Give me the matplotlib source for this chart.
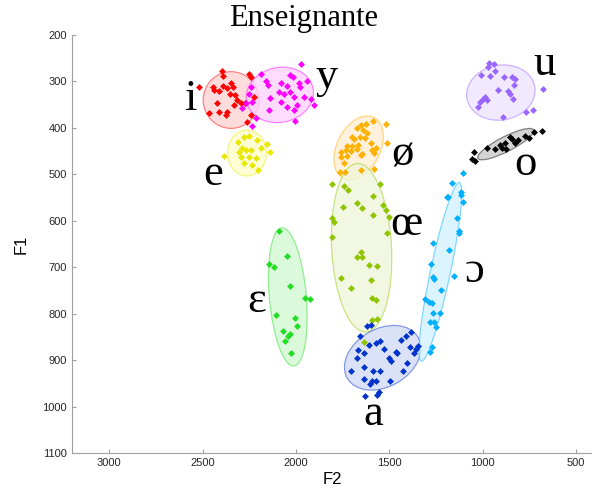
import matplotlib.pyplot as plt
from matplotlib.patches import Ellipse
from matplotlib.transforms import Affine2D
from matplotlib.colors import to_rgba

# F2 / F1 values (Hz), one pair of lists per vowel
i_f2 = [2399, 2389, 2252, 2243, 2519, 2447, 2439, 2412, 2389, 2368, 2346, 2336, 2354,
        2329, 2314, 2297, 2275, 2421, 2412, 2368, 2466, 2377, 2261, 2240, 2333, 2226]
i_f1 = [277, 288, 284, 290, 313, 313, 318, 320, 310, 315, 304, 311, 327,
        329, 340, 346, 347, 347, 366, 365, 369, 373, 387, 372, 351, 333]

y_f2 = [1973, 2190, 2030, 2016, 2163, 2151, 2083, 2051, 1986, 1977, 1941, 2092, 2066, 2030,
        2012, 1959, 1919, 2137, 2243, 2252, 2234, 2270, 2288, 2083, 2048, 2012, 1995, 2146,
        2216, 2003, 1906, 2234]
y_f1 = [262, 284, 286, 291, 300, 308, 304, 310, 303, 311, 300, 322, 326, 322,
        333, 333, 338, 336, 311, 326, 344, 347, 358, 344, 354, 361, 351, 361,
        379, 385, 351, 396]

e_f2 = [2252, 2279, 2208, 2311, 2154, 2288, 2306, 2270, 2240, 2190, 2140, 2385, 2296,
        2252, 2216, 2279, 2234, 2205]
e_f1 = [417, 420, 426, 430, 435, 444, 451, 448, 448, 444, 451, 461, 462,
        462, 465, 476, 480, 491]

oe_f2 = [1586, 1520, 1650, 1627, 1672, 1640, 1618, 1698, 1658, 1690, 1632, 1600, 1511,
         1725, 1698, 1668, 1761, 1734, 1707, 1675, 1591, 1574, 1645, 1761, 1725, 1654,
         1583, 1743, 1765, 1739, 1654, 1580]
oe_f1 = [385, 392, 394, 392, 401, 404, 410, 419, 419, 424, 422, 432, 432,
         440, 440, 437, 451, 448, 449, 446, 448, 444, 456, 462, 460, 458,
         455, 476, 494, 496, 491, 489]

oe2_f2 = [1805, 1743, 1722, 1551, 1586, 1675, 1645, 1533, 1520, 1750, 1805, 1797, 1586,
          1503, 1805, 1511, 1654, 1675, 1645, 1610, 1568, 1761, 1600, 1704, 1591, 1574,
          1591, 1565, 1636]
oe2_f1 = [521, 525, 534, 521, 547, 562, 573, 566, 577, 570, 595, 602, 588,
          591, 636, 626, 667, 679, 679, 696, 697, 724, 728, 744, 767, 771,
          814, 812, 862]

eps_f2 = [2090, 2049, 2144, 2120, 2033, 1952, 1926, 2108, 2005, 1997, 2069, 2033, 2045,
          2060, 2028]
eps_f1 = [621, 676, 694, 699, 740, 766, 768, 803, 810, 826, 837, 844, 849,
          858, 884]

a_f2 = [1622, 1597, 1658, 1383, 1413, 1440, 1551, 1574, 1610, 1530, 1467, 1458, 1391,
        1360, 1369, 1348, 1668, 1672, 1636, 1503, 1490, 1404, 1636, 1704, 1586, 1551,
        1426, 1636, 1591, 1574, 1604, 1497, 1556, 1568, 1633]
a_f1 = [826, 824, 848, 839, 848, 857, 859, 864, 867, 875, 882, 884, 872,
        875, 884, 870, 878, 896, 885, 896, 901, 907, 915, 923, 924, 924,
        923, 941, 945, 945, 951, 946, 968, 975, 977]

open_o_f2 = [1107, 1164, 1114, 1114, 1188, 1107, 1127, 1265, 1182, 1276, 1152, 1265, 1262,
             1223, 1307, 1289, 1271, 1265, 1230, 1280, 1259, 1253, 1271, 1284, 1191, 1137,
             1129]
open_o_f1 = [498, 518, 537, 544, 548, 559, 623, 647, 663, 693, 718, 722, 726,
             749, 769, 774, 778, 798, 798, 817, 819, 828, 871, 882, 549, 595,
             626]

u_f2 = [968, 942, 974, 933, 1009, 959, 888, 844, 826, 835, 920, 867, 856, 986, 998,
        1013, 977, 838, 1027, 678, 731, 767, 892]
u_f1 = [261, 262, 270, 277, 286, 288, 290, 290, 295, 308, 318, 320, 327, 333, 338,
        344, 340, 338, 354, 317, 361, 365, 377]

o_f2 = [683, 724, 772, 755, 856, 813, 826, 880, 910, 897, 874, 977, 933, 1049, 1058,
        1040, 844]
o_f1 = [406, 408, 417, 422, 420, 426, 432, 433, 437, 444, 446, 444, 446, 451, 467,
        472, 425]

# vowel symbols and where they are written (F2, F1 of the baseline centre)
symbols = ['i', 'y', 'e', 'ø', 'œ', 'ɛ', 'a', 'ɔ', 'u', 'o']
sym_f2 = [2567, 1835, 2444, 1429, 1408, 2212, 1584, 1045, 671, 769]
sym_f1 = [361, 314, 523, 480, 631, 796, 1040, 731, 286, 501]

# ellipses: centre (F2, F1), axes in F2-Hz equivalent, angle in degrees
ell_f2 = [2348, 2087, 2263, 1665, 1649, 2044, 1536, 1227, 903, 877]
ell_f1 = [340, 329, 454, 443, 658, 764, 895, 710, 324, 435]
ell_w = [299, 363, 208, 365, 903, 743, 438, 978, 369, 335]
ell_h = [304, 294, 246, 232, 321, 198, 310, 107, 294, 80]
ell_ang = [0, 12, 0, 63, 93, 95, 30, 78, 10, 27]

colors = ['#ff0000', '#ff00ff', '#e8e800', '#ffb000', '#8fc400', '#22dd22',
          '#0033cc', '#00b0ff', '#9966ff', '#000000']
fills = ['#ffd4d4', '#ffd4ff', '#ffffcc', '#ffeed2', '#eff6da', '#d2f8d2',
         '#d2daf4', '#d2f2ff', '#eee4ff', '#c8c8c8']

pts = [(i_f2, i_f1), (y_f2, y_f1), (e_f2, e_f1), (oe_f2, oe_f1), (oe2_f2, oe2_f1),
       (eps_f2, eps_f1), (a_f2, a_f1), (open_o_f2, open_o_f1), (u_f2, u_f1), (o_f2, o_f1)]

fig = plt.figure(figsize=(5.92, 4.9), dpi=100)
ax = fig.add_axes([0.1216, 0.0755, 0.8784, 0.8531])
ax.set_xlim(3200, 415)
ax.set_ylim(1100, 200)

# ratio of pixel scales so ellipses are drawn in an isotropic space
k = (0.8531 * 490 / 900) / (0.8784 * 592 / (3200 - 415))
tr = Affine2D().scale(1, 1 / k) + ax.transData

for n in range(len(symbols)):
    el = Ellipse((ell_f2[n], ell_f1[n] * k), ell_w[n], ell_h[n], angle=ell_ang[n],
                 transform=tr, facecolor=to_rgba(fills[n], 0.8),
                 edgecolor=to_rgba(colors[n], 0.45), lw=0.9, zorder=1)
    ax.add_patch(el)

for n in range(len(pts)):
    ax.plot(pts[n][0], pts[n][1], 'D', color=colors[n], ms=3.5, mew=0, zorder=3)

for n in range(len(symbols)):
    ax.text(sym_f2[n], sym_f1[n], symbols[n], fontsize=32,
            family=['Liberation Serif', 'DejaVu Serif'], ha='center', va='baseline',
            zorder=4)

ax.spines['top'].set_visible(False)
ax.spines['right'].set_visible(False)
ax.spines['left'].set_color('#a0a0a0')
ax.spines['bottom'].set_color('#a0a0a0')
ax.set_xticks([3000, 2500, 2000, 1500, 1000, 500])
ax.set_yticks(range(200, 1101, 100))
ax.tick_params(direction='in', length=3, color='#a0a0a0', labelsize=8,
               labelcolor='#262626')
for lab in ax.get_xticklabels() + ax.get_yticklabels():
    lab.set_family('Liberation Sans')
ax.set_xlabel('F2', fontsize=12, family='Liberation Sans', labelpad=3)
ax.set_ylabel('F1', fontsize=12, family='Liberation Sans', labelpad=10)
fig.text(0.512, 0.962, 'Enseignante', fontsize=22, family='Liberation Serif',
         ha='center', va='center')

fig.savefig('out.png', dpi=100)
